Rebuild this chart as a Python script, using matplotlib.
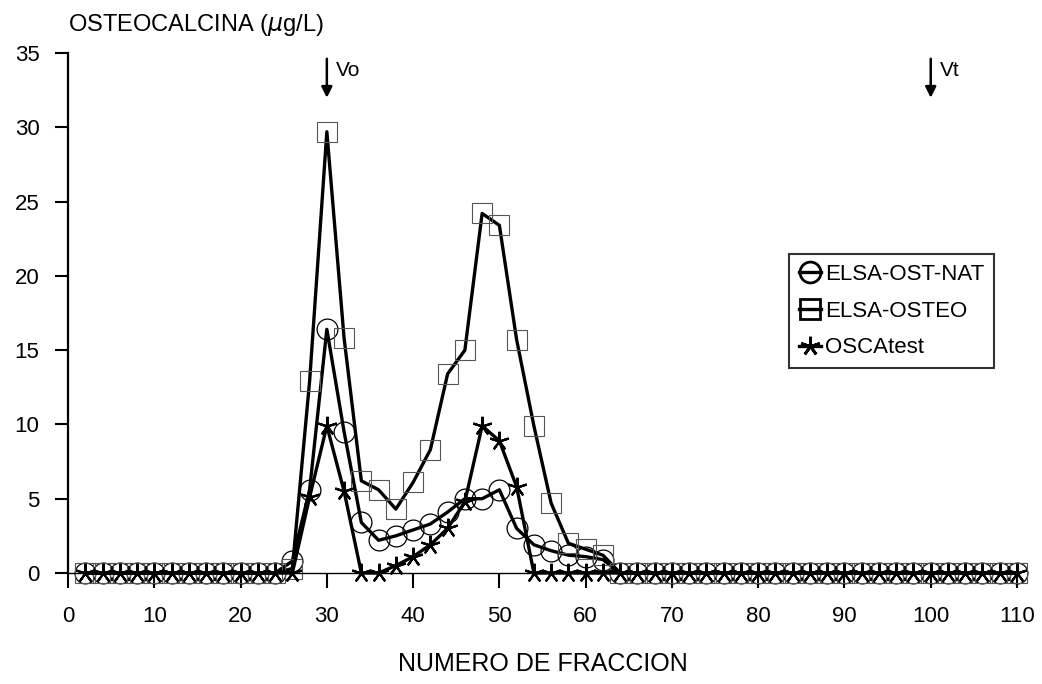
import numpy as np
import matplotlib.pyplot as plt

plt.rcParams['font.family'] = ['Liberation Sans', 'DejaVu Sans']

# Fraction numbers (every second fraction)
fraccion = np.arange(2, 112, 2)

# Non-zero region, fractions 26..62; everything else is 0
pico = np.arange(26, 64, 2)
nat_pico = [0.8, 5.6, 16.4, 9.5, 3.4, 2.2, 2.5, 2.9, 3.3, 4.1,
            5.0, 5.0, 5.6, 3.0, 1.9, 1.5, 1.2, 1.1, 0.9]
osteo_pico = [0.3, 12.9, 29.7, 15.8, 6.2, 5.6, 4.3, 6.1, 8.3, 13.4,
              15.0, 24.2, 23.4, 15.7, 9.9, 4.7, 2.0, 1.6, 1.2]
osca_pico = [0.0, 5.1, 9.9, 5.5, 0.0, 0.0, 0.5, 1.1, 1.9, 3.0,
             4.8, 9.9, 8.9, 5.8, 0.0, 0.0, 0.0, 0.0, 0.0]

def serie(vals):
    y = np.zeros(len(fraccion))
    for f, v in zip(pico, vals):
        y[fraccion == f] = v
    return y

elsa_nat = serie(nat_pico)
elsa_osteo = serie(osteo_pico)
oscatest = serie(osca_pico)

fig = plt.figure(figsize=(10.42, 6.84), dpi=100)
ax = fig.add_axes([0.0653, 0.1623, 0.9107, 0.7602])

ax.plot(fraccion, elsa_nat, color='black', lw=2.4, marker='o', ms=15,
        mfc='none', mec='black', mew=0.9, clip_on=False, label='ELSA-OST-NAT')
ax.plot(fraccion, elsa_osteo, color='black', lw=2.4, marker='s', ms=14,
        mfc='none', mec='#555555', mew=0.8, clip_on=False, label='ELSA-OSTEO')
ax.plot(fraccion, oscatest, color='black', lw=2.4, marker=(5, 2, 0), ms=14,
        mfc='none', mec='black', mew=1.6, clip_on=False, label='OSCAtest')

ax.set_xlim(0, 110)
ax.set_ylim(0, 35)
ax.set_xticks(np.arange(0, 111, 10))
ax.set_yticks(np.arange(0, 36, 5))

for s in ['top', 'right']:
    ax.spines[s].set_visible(False)
ax.spines['left'].set_linewidth(1.6)
ax.spines['bottom'].set_linewidth(1.0)

ax.tick_params(axis='x', direction='out', length=11, width=1.5,
               pad=13, labelsize=16)
ax.tick_params(axis='y', direction='out', length=9.5, width=1.5,
               pad=11, labelsize=16)

ax.set_xlabel('NUMERO DE FRACCION', fontsize=18, labelpad=18)
fig.text(68 / 1042, 1 - 25 / 684, 'OSTEOCALCINA ($\\mu$g/L)',
         fontsize=17, ha='left', va='center')

# Vo / Vt arrows
for xv, txt in [(30, 'Vo'), (100, 'Vt')]:
    ax.annotate('', xy=(xv, 31.8), xytext=(xv, 34.8),
                arrowprops=dict(arrowstyle='-|>', color='black', lw=1.8,
                                mutation_scale=16), annotation_clip=False)
    ax.text(xv + 1.1, 33.8, txt, fontsize=15, ha='left', va='center')

leg = ax.legend(loc='upper left', bbox_to_anchor=(0.76, 0.613),
                fontsize=16, frameon=True, fancybox=False, edgecolor='black',
                handlelength=1.0, handletextpad=0.15, labelspacing=0.7,
                borderpad=0.45, borderaxespad=0, numpoints=1)
leg.get_frame().set_linewidth(1.5)
for h in leg.get_lines():
    h.set_markeredgewidth(2.0)
    h.set_markeredgecolor('black')

fig.savefig('out.png', dpi=100)
